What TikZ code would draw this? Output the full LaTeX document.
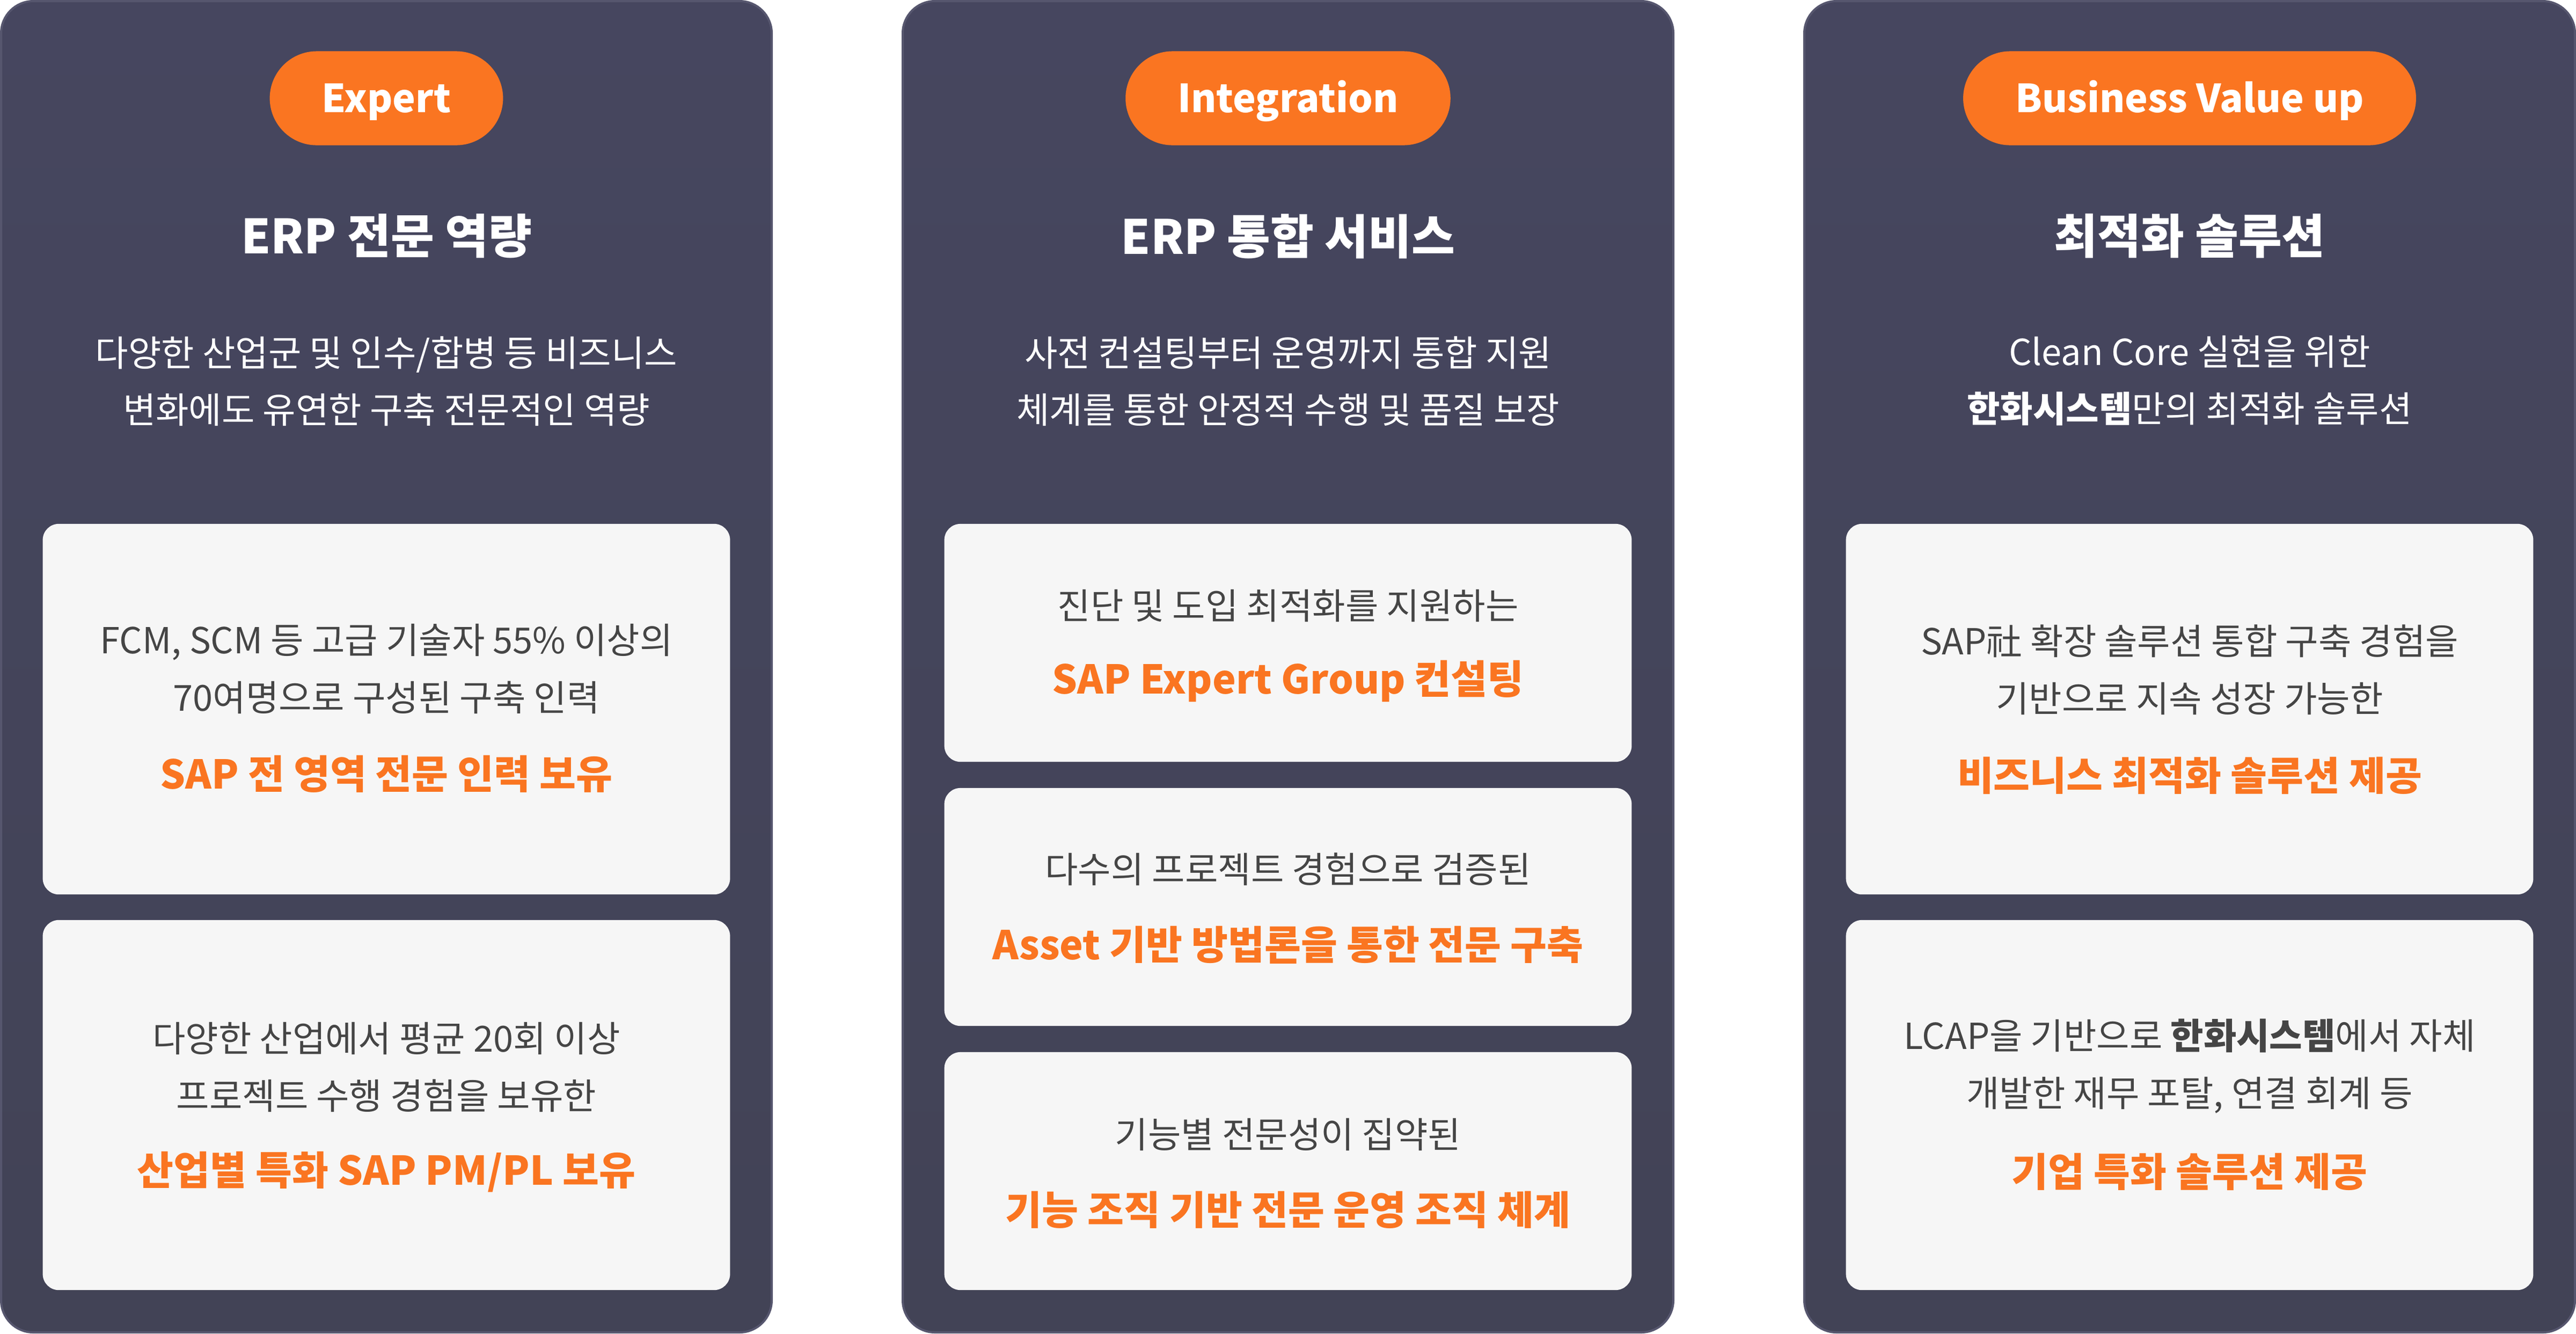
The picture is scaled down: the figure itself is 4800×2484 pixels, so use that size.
\documentclass[tikz,border=0pt]{standalone}
\usepackage{fontspec}
\setmainfont{Noto Sans CJK KR}
\usepackage{xcolor}
\usepackage{tikz}
\definecolor{panelTop}{HTML}{46465F}
\definecolor{panelMid}{HTML}{3A3648}
\definecolor{panelBot}{HTML}{424356}
\definecolor{panelRim}{HTML}{56566E}
\definecolor{accent}{HTML}{FA7521}
\definecolor{cardBg}{HTML}{F6F6F6}
\definecolor{cardText}{HTML}{454545}
\tikzset{
    panel/.style={draw=panelRim, line width=0.04cm, rounded corners=0.6cm,
        top color=panelTop, middle color=panelMid, bottom color=panelBot},
    card/.style={fill=cardBg, rounded corners=0.3cm, minimum width=12.8cm, inner sep=0pt},
    tag/.style={fill=accent, text=white, rounded corners=0.875cm, minimum height=1.75cm,
        inner xsep=0.97cm, inner ysep=0pt, text height=15pt, text depth=0pt,
        font=\fontsize{20.5}{24}\selectfont\bfseries},
    heading/.style={text=white, inner sep=0pt, font=\fontsize{25}{30}\selectfont\bfseries},
    intro/.style={text=white, align=center, inner sep=0pt, font=\fontsize{19}{30.2}\selectfont},
    detail/.style={text=cardText, align=center, inner sep=0pt, font=\fontsize{19}{30.4}\selectfont},
    highlight/.style={text=accent, inner sep=0pt, font=\fontsize{21}{24}\selectfont\bfseries}
}
\begin{document}
\begin{tikzpicture}[x=0.01cm, y=-0.01cm]
    \useasboundingbox (0,0) rectangle (4800,2484);

    % Expert
    \draw[panel] (2,2) rectangle (1438,2482);
    \node[tag] (tagExpert) at (720,183) {Expert};
    \node[heading] (headExpert) at (720,440) {ERP 전문 역량};
    \node[intro] (introExpert) at (720,710) {다양한 산업군 및 인수/합병 등 비즈니스\\변화에도 유연한 구축 전문적인 역량};
    \node[card, minimum height=6.9cm] (expertA) at (720,1321) {};
    \node[detail] (expertAtext) at (720,1246) {FCM, SCM 등 고급 기술자 55\% 이상의\\70여명으로 구성된 구축 인력};
    \node[highlight] (expertAkey) at (720,1442) {SAP 전 영역 전문 인력 보유};
    \node[card, minimum height=6.89cm] (expertB) at (720,2058.5) {};
    \node[detail] (expertBtext) at (720,1988) {다양한 산업에서 평균 20회 이상\\프로젝트 수행 경험을 보유한};
    \node[highlight] (expertBkey) at (720,2183) {산업별 특화 SAP PM/PL 보유};

    % Integration
    \draw[panel] (1682,2) rectangle (3118,2482);
    \node[tag] (tagInteg) at (2400,183) {Integration};
    \node[heading] (headInteg) at (2400,440) {ERP 통합 서비스};
    \node[intro] (introInteg) at (2400,710) {사전 컨설팅부터 운영까지 통합 지원\\체계를 통한 안정적 수행 및 품질 보장};
    \node[card, minimum height=4.43cm] (integA) at (2400,1197.5) {};
    \node[detail] (integAtext) at (2400,1128) {진단 및 도입 최적화를 지원하는};
    \node[highlight] (integAkey) at (2400,1269) {SAP Expert Group 컨설팅};
    \node[card, minimum height=4.43cm] (integB) at (2400,1689.5) {};
    \node[detail] (integBtext) at (2400,1619) {다수의 프로젝트 경험으로 검증된};
    \node[highlight] (integBkey) at (2400,1760) {Asset 기반 방법론을 통한 전문 구축};
    \node[card, minimum height=4.43cm] (integC) at (2400,2181.5) {};
    \node[detail] (integCtext) at (2400,2113) {기능별 전문성이 집약된};
    \node[highlight] (integCkey) at (2400,2254) {기능 조직 기반 전문 운영 조직 체계};

    % Business Value up
    \draw[panel] (3362,2) rectangle (4798,2482);
    \node[tag] (tagValue) at (4080,183) {Business Value up};
    \node[heading] (headValue) at (4080,440) {최적화 솔루션};
    \node[intro] (introValue) at (4080,709) {Clean Core 실현을 위한\\\textbf{한화시스템}만의 최적화 솔루션};
    \node[card, minimum height=6.9cm] (valueA) at (4080,1321) {};
    \node[detail] (valueAtext) at (4080,1248) {SAP社 확장 솔루션 통합 구축 경험을\\기반으로 지속 성장 가능한};
    \node[highlight] (valueAkey) at (4080,1445) {비즈니스 최적화 솔루션 제공};
    \node[card, minimum height=6.89cm] (valueB) at (4080,2058.5) {};
    \node[detail] (valueBtext) at (4080,1986) {LCAP을 기반으로 \textbf{한화시스템}에서 자체\\개발한 재무 포탈, 연결 회계 등};
    \node[highlight] (valueBkey) at (4080,2183) {기업 특화 솔루션 제공};
\end{tikzpicture}
\end{document}
